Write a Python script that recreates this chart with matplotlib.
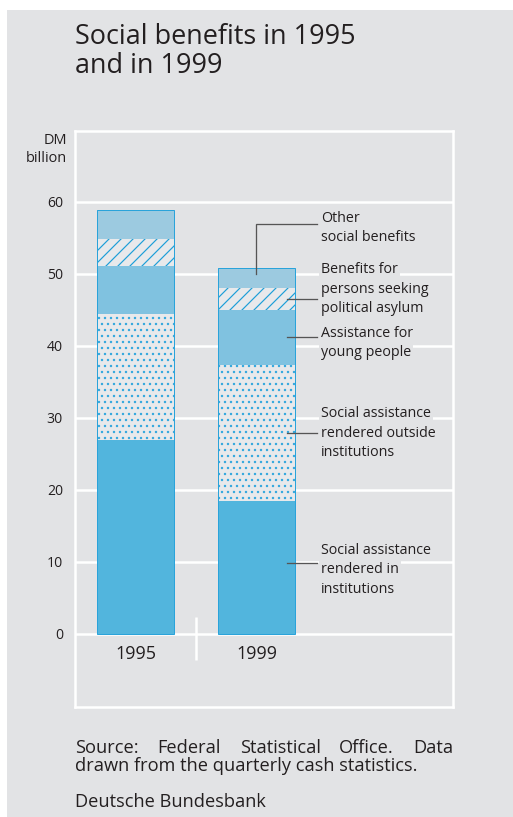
import matplotlib
matplotlib.use("Agg")
import matplotlib.pyplot as plt
from matplotlib.patches import Rectangle
import numpy as np

# ---------------- data ----------------
years = ["1995", "1999"]
institutions = [27.0, 18.5]
outside = [17.5, 18.9]
young = [6.6, 7.6]
asylum = [3.8, 3.1]
other = [4.0, 2.8]

series_names = [
    "Social assistance\nrendered in\ninstitutions",
    "Social assistance\nrendered outside\ninstitutions",
    "Assistance for\nyoung people",
    "Benefits for\npersons seeking\npolitical asylum",
    "Other\nsocial benefits",
]
yticks = [0, 10, 20, 30, 40, 50, 60]

# ---------------- style ----------------
W, H, DPI = 513, 817, 72
PANEL = "#e2e3e5"
TXT = "#231f20"
EDGE = "#2aa3da"
LEAD = "#555555"
FONT = "Open Sans"
plt.rcParams["font.family"] = [FONT, "DejaVu Sans"]
plt.rcParams["hatch.linewidth"] = 1.2

fig = plt.figure(figsize=(W / DPI, H / DPI), dpi=DPI)
fig.patch.set_facecolor("white")
fig.patches.append(Rectangle((7 / W, 0), 1 - 7 / W, 1 - 10 / H, transform=fig.transFigure,
                             facecolor=PANEL, edgecolor="none", zorder=-10))

ax = fig.add_axes([75 / W, 1 - 707 / H, (453 - 75) / W, (707 - 131) / H])
ax.set_zorder(1)
ax.set_facecolor("none")
ax.set_xlim(-0.5, 2.624)
ax.set_ylim(-10.14, 69.86)
for s in ax.spines.values():
    s.set_color("white")
    s.set_linewidth(2.5)
ax.set_yticks(yticks)
ax.set_yticklabels([str(v) for v in yticks])
ax.set_xticks([])
ax.tick_params(axis="y", length=0, pad=12, labelsize=14, labelcolor=TXT)
ax.set_axisbelow(True)
for v in yticks:
    ax.axhline(v, color="white", lw=2.5, zorder=0)

x = np.arange(len(years))
bw = 0.64
segs = [
    (institutions, dict(color="#52b5dd")),
    (outside, dict(facecolor="#e8e9eb", edgecolor="#35a8de", hatch="..")),
    (young, dict(color="#80c2e0")),
    (asylum, dict(facecolor="#e8e9eb", edgecolor="#1f9fd8", hatch="//")),
    (other, dict(color="#9ccae0")),
]
bottom = np.zeros(len(years))
mids = []
for vals, kw in segs:
    vals = np.array(vals)
    ax.bar(x, vals, bw, bottom=bottom, linewidth=0, zorder=2, **kw)
    mids.append(bottom + vals / 2)
    bottom = bottom + vals
ax.bar(x, bottom, bw, fill=False, edgecolor=EDGE, linewidth=1.0, zorder=3)

# separator tick between categories
ax.vlines(0.5, -3.6, 2.4, color="white", lw=2.5, zorder=1)
for i, yr in enumerate(years):
    ax.annotate(yr, xy=(x[i], 0), xytext=(0, -25), textcoords="offset points",
                ha="center", va="baseline", fontsize=18, color=TXT)

# labels with leader lines (attached to 1999 bar)
label_y = [8.9, 27.9, 40.4, 47.9, 56.4]
lead_off = [0.6, 0.0, 0.0, 0.0, 0.5]
xt = 1.533
ls = 19.5
for k, name in enumerate(series_names):
    ly = mids[k][1] + lead_off[k]
    if k == len(series_names) - 1:
        hy = 56.9
        ax.plot([x[1], x[1], 1.5], [ly, hy, hy], color=LEAD, lw=1.3, zorder=5,
                solid_joinstyle="miter")
    else:
        ax.plot([1.25, 1.5], [ly, ly], color=LEAD, lw=1.3, zorder=5)
    lines = name.split("\n")
    n = len(lines)
    for i, line in enumerate(lines):
        ax.annotate(line, xy=(xt, label_y[k]), xytext=(0, ((n - 1) / 2 - i) * ls),
                    textcoords="offset points", ha="left", va="center",
                    fontsize=14.3, color=TXT, zorder=4,
                    bbox=dict(boxstyle="square,pad=0.15", facecolor=PANEL, edgecolor="none"))

# unit label
fig.text(67 / W, 1 - 144 / H, "DM", ha="right", va="baseline", fontsize=14.5, color=TXT)
fig.text(67 / W, 1 - 162 / H, "billion", ha="right", va="baseline", fontsize=14.5, color=TXT)

# title
fig.text(75 / W, 1 - 44 / H, "Social benefits in 1995", ha="left", va="baseline",
         fontsize=27, color=TXT)
fig.text(75 / W, 1 - 73 / H, "and in 1999", ha="left", va="baseline",
         fontsize=27, color=TXT)

# source (justified first line)
FS = 18.3
renderer = fig.canvas.get_renderer()
words = "Source: Federal Statistical Office. Data".split()
tmp = [fig.text(0, 0, w_, fontsize=FS) for w_ in words]
widths = [t.get_window_extent(renderer).width for t in tmp]
for t in tmp:
    t.remove()
gap = (378 - sum(widths)) / (len(words) - 1)
xp = 75.0
for w_, wd in zip(words, widths):
    fig.text(xp / W, 1 - 753 / H, w_, ha="left", va="baseline", fontsize=FS, color=TXT)
    xp += wd + gap
fig.text(75 / W, 1 - 771 / H, "drawn from the quarterly cash statistics.", ha="left",
         va="baseline", fontsize=FS, color=TXT)
fig.text(75 / W, 1 - 807 / H, "Deutsche Bundesbank", ha="left", va="baseline",
         fontsize=FS, color=TXT)

fig.savefig("out.png", dpi=DPI, facecolor=fig.get_facecolor())
